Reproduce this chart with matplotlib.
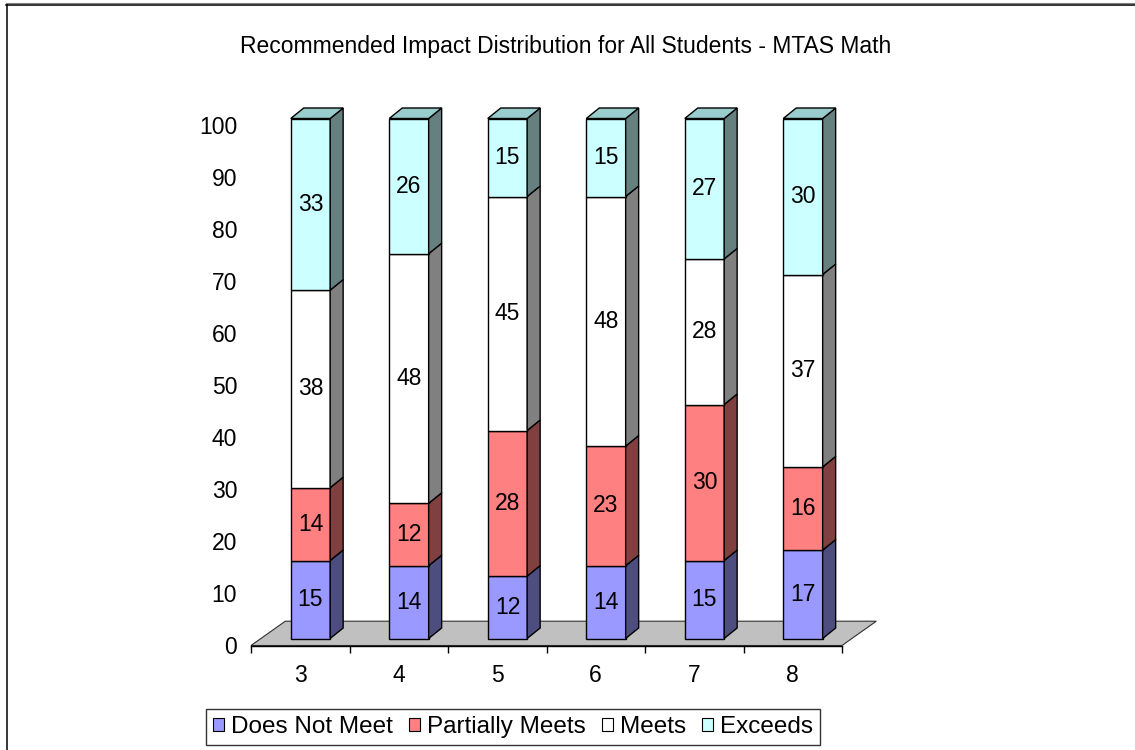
import matplotlib
matplotlib.use("Agg")
import matplotlib.pyplot as plt
from matplotlib.patches import Polygon, Patch
from matplotlib.lines import Line2D

plt.rcParams["font.family"] = ["Liberation Sans", "DejaVu Sans"]

# ---- data ----
title = "Recommended Impact Distribution for All Students - MTAS Math"
grades = ["3", "4", "5", "6", "7", "8"]
series_names = ["Does Not Meet", "Partially Meets", "Meets", "Exceeds"]
does_not_meet = [15, 14, 12, 14, 15, 17]
partially_meets = [14, 12, 28, 23, 30, 16]
meets = [38, 48, 45, 48, 28, 37]
exceeds = [33, 26, 15, 15, 27, 30]
y_ticks = list(range(0, 101, 10))

series = [does_not_meet, partially_meets, meets, exceeds]

# ---- style ----
front_colors = ["#9999FF", "#FF8080", "#FFFFFF", "#CCFFFF"]
side_colors = ["#4D4D80", "#804040", "#808080", "#668080"]
top_colors = ["#7373BF", "#BF6060", "#BFBFBF", "#99CCCC"]
floor_color = "#C0C0C0"

W, H = 1135, 750
fig = plt.figure(figsize=(W / 100, H / 100), dpi=100)
ax = fig.add_axes([251 / W, (H - 645.5) / H, 591 / W, 520 / H])
ax.set_xlim(-0.5, 5.5)
ax.set_ylim(0, 100)

# pixel size of one data unit, used for the oblique depth offsets
p0 = ax.transData.transform((0, 0))
p1 = ax.transData.transform((1, 1))
sx, sy = p1[0] - p0[0], p1[1] - p0[1]


def shift(x, y, dx_px, dy_px):
    return (x + dx_px / sx, y + dy_px / sy)


FLOOR_DEPTH = (34.3, 24.3)   # px
FACE_OFFSET = (10.2, 7.0)    # px, front face of bars behind floor front edge
BAR_DEPTH = (13.0, 10.5)     # px
BAR_WIDTH = 0.4
EDGE_LW = 1.0

# floor
floor = Polygon(
    [(-0.5, 0), (5.5, 0), shift(5.5, 0, *FLOOR_DEPTH), shift(-0.5, 0, *FLOOR_DEPTH)],
    closed=True, facecolor=floor_color, edgecolor="#303030", lw=0.8,
    clip_on=False, zorder=1,
)
ax.add_patch(floor)

fx, fy = FACE_OFFSET
bx, by = BAR_DEPTH
z = 2
for i in range(len(grades)):
    base = 0
    xl, xr = i - BAR_WIDTH / 2, i + BAR_WIDTH / 2
    for k, vals in enumerate(series):
        v = vals[i]
        y0, y1 = base, base + v
        fl0 = shift(xl, y0, fx, fy)
        fr0 = shift(xr, y0, fx, fy)
        fr1 = shift(xr, y1, fx, fy)
        fl1 = shift(xl, y1, fx, fy)
        br0 = shift(xr, y0, fx + bx, fy + by)
        br1 = shift(xr, y1, fx + bx, fy + by)
        bl1 = shift(xl, y1, fx + bx, fy + by)
        ax.add_patch(Polygon([fl0, fr0, fr1, fl1], closed=True,
                             facecolor=front_colors[k], edgecolor="black",
                             lw=EDGE_LW, clip_on=False, zorder=z))
        ax.add_patch(Polygon([fr0, br0, br1, fr1], closed=True,
                             facecolor=side_colors[k], edgecolor="black",
                             lw=EDGE_LW, clip_on=False, zorder=z))
        if k == len(series) - 1:
            ax.add_patch(Polygon([fl1, fr1, br1, bl1], closed=True,
                                 facecolor=top_colors[k], edgecolor="black",
                                 lw=EDGE_LW, clip_on=False, zorder=z))
        cx, cy = shift(i, (y0 + y1) / 2, fx, fy)
        ax.text(cx, cy, str(v), ha="center", va="center", fontsize=16.5,
                color="black", zorder=z + 1, clip_on=False)
        base = y1
    z += 2

# axes styling
for side in ("top", "right", "left"):
    ax.spines[side].set_visible(False)
ax.spines["bottom"].set_color("black")
ax.spines["bottom"].set_linewidth(1.0)
ax.spines["bottom"].set_zorder(1.5)
ax.set_facecolor("none")

ax.set_xticks(range(len(grades)), grades)
ax.set_xticks([x - 0.5 for x in range(len(grades) + 1)], minor=True)
ax.tick_params(axis="x", which="major", length=0, pad=13, labelsize=16.5)
ax.tick_params(axis="x", which="minor", length=5, width=1.0, direction="out",
               color="black")
ax.set_yticks(y_ticks)
ax.tick_params(axis="y", length=0, pad=10, labelsize=16.5)

# title
fig.text(566 / W, 1 - 46 / H, title, ha="center", va="center", fontsize=16.5)

# legend
handles = [Patch(facecolor=c, edgecolor="black", lw=0.8) for c in front_colors]
fig.legend(handles, series_names, loc="center", bbox_to_anchor=(513 / W, 1 - 727 / H),
           ncol=4, frameon=True, fancybox=False, edgecolor="black", fontsize=17.5,
           handlelength=0.45, handleheight=0.45, handletextpad=0.3,
           columnspacing=0.65, borderpad=0.3, borderaxespad=0)
leg = fig.legends[0]
leg.get_frame().set_linewidth(1.0)

# chart-area border (top and left edges)
fig.add_artist(Line2D([6 / W, 1], [1 - 3 / H, 1 - 3 / H], transform=fig.transFigure,
                      color="#808080", lw=0.8))
fig.add_artist(Line2D([6 / W, 1], [1 - 4.5 / H, 1 - 4.5 / H], transform=fig.transFigure,
                      color="black", lw=1.1))
fig.add_artist(Line2D([6.5 / W, 6.5 / W], [0, 1 - 4.5 / H], transform=fig.transFigure,
                      color="black", lw=1.1))

fig.savefig("out.png", dpi=100, facecolor="white")
